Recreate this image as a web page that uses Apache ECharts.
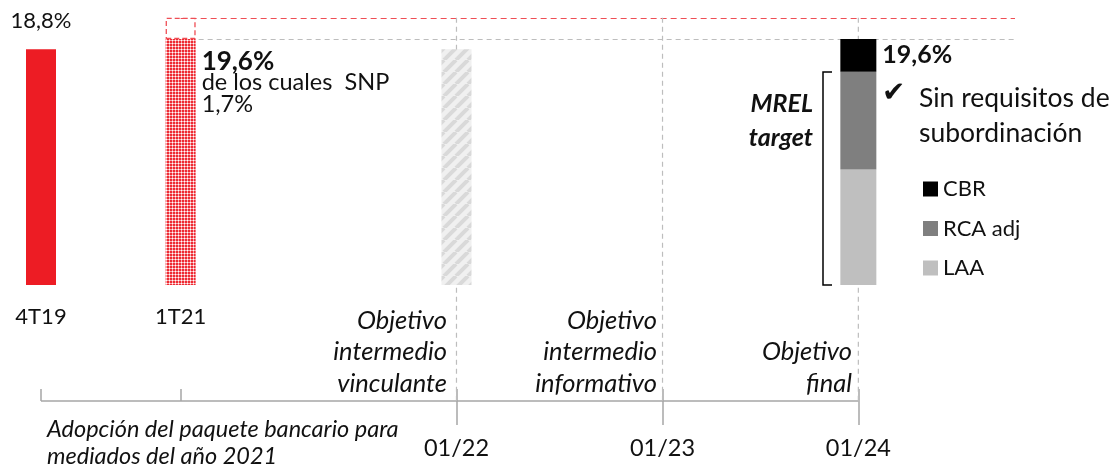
<!DOCTYPE html>
<html>
<head>
<meta charset="utf-8">
<script src="https://cdn.jsdelivr.net/npm/echarts@6/dist/echarts.min.js"></script>
<style>
  html, body { margin: 0; padding: 0; background: #fff; }
  #chart { width: 1118px; height: 464px; }
</style>
</head>
<body>
<div id="chart"></div>
<script>
// Milestones on the timeline and their horizontal slots
const milestones = ['4T19', '1T21', '01/22', '01/23', '01/24'];
const milestonePos = [0, 4.1, 12.2, 18.25, 24];

// Capital ratios (%)
const ratio4T19 = 18.8;
const ratio1T21 = 19.6;
const snp1T21 = 1.7;
const ratio0122 = 18.8;          // placeholder bar for the binding intermediate target
const componentNames = ['LAA', 'RCA adj', 'CBR'];
const components0124 = [9.2, 7.8, 2.6];
const legendOrder = ['CBR', 'RCA adj', 'LAA'];

// Texts of the target milestones
const targetNotes = [
  ['Objetivo', 'intermedio', 'vinculante'],
  ['Objetivo', 'intermedio', 'informativo'],
  ['Objetivo', 'final']
];
const adoptionNote = ['Adopción del paquete bancario para', 'mediados del año 2021'];

const FONT = 'Lato, "Liberation Sans", sans-serif';
const AXIS = '#a6a6a6';
const Y_FLOOR = -9.24, Y_TOP = 22, X_END = 28.6;

const pct = v => v.toFixed(1).replace('.', ',') + '%';
const nameAt = v => {
  let best = 0;
  milestonePos.forEach((p, i) => { if (Math.abs(p - v) < Math.abs(milestonePos[best] - v)) best = i; });
  return milestones[best];
};

// Fine red dot pattern
function redDots() {
  const c = document.createElement('canvas');
  c.width = 3; c.height = 3;
  const g = c.getContext('2d');
  g.fillStyle = '#ee2a32'; g.fillRect(0, 0, 3, 3);
  g.fillStyle = '#f8a6aa';
  g.fillRect(1, 0, 1, 1); g.fillRect(0, 1, 1, 1); g.fillRect(2, 1, 1, 1); g.fillRect(1, 2, 1, 1);
  g.fillStyle = '#ffffff'; g.fillRect(1, 1, 1, 1);
  return c;
}
// Light grey diagonal hatching
function greyStripes() {
  const s = 12;
  const c = document.createElement('canvas');
  c.width = s; c.height = s;
  const g = c.getContext('2d');
  g.fillStyle = '#f0f0f0'; g.fillRect(0, 0, s, s);
  g.strokeStyle = '#d9d9d9'; g.lineWidth = 4;
  for (const k of [-s, 0, s]) {
    g.beginPath(); g.moveTo(k, s); g.lineTo(k + s, 0); g.stroke();
  }
  return c;
}

const total1T21 = ratio1T21 + snp1T21;
const total0124 = components0124.reduce((a, b) => a + b, 0);
const p1T21 = milestonePos[1];
const targetPos = milestonePos.slice(2);

const dashGrey = { color: '#bdbdbd', width: 1.2, type: [5, 4] };
const dashRed = { color: '#ef4e55', width: 1.2, type: [6, 4] };

// Horizontal reference levels and the timeline itself
const guideLines = [
  [{ coord: [p1T21, total1T21], lineStyle: dashRed }, { coord: [X_END, total1T21] }],
  [{ coord: [p1T21, ratio1T21], lineStyle: dashGrey }, { coord: [X_END, ratio1T21] }],
  [{ coord: [milestonePos[0], Y_FLOOR], lineStyle: { color: AXIS, width: 1.5, type: 'solid' } },
   { coord: [milestonePos[4], Y_FLOOR] }]
];

const colors0124 = { 'LAA': '#bfbfbf', 'RCA adj': '#7f7f7f', 'CBR': '#000000' };

// Each item is [ratio, slot]; the ratio column comes first so stacks add up vertically
const barEncode = { x: 1, y: 0 };

// Dashed verticals marking each regulatory target date
const targetLines = targetPos.map(p => ({
  name: 'guide ' + nameAt(p), type: 'line', xAxisIndex: 1, z: 1, silent: true,
  encode: barEncode, symbol: 'none', animation: false,
  lineStyle: { color: '#bdbdbd', width: 1.2, type: [5, 4] },
  data: [[total1T21, p], [Y_FLOOR, p]]
}));

const series = [
  ...targetLines,
  {
    name: '4T19', type: 'bar', xAxisIndex: 0, barWidth: 30, barGap: '-100%', z: 3,
    encode: barEncode,
    data: [[ratio4T19, milestonePos[0]]],
    itemStyle: { color: '#ed1c24' },
    label: { show: true, position: 'top', distance: 17, formatter: p => pct(p.value[0]),
             fontSize: 22, fontFamily: FONT, color: '#111' },
    markLine: { silent: true, z: 1, symbol: ['none', 'none'], label: { show: false },
                animation: false, data: guideLines }
  },
  {
    name: '1T21', type: 'bar', xAxisIndex: 0, barWidth: 30, barGap: '-100%', stack: 'q1', z: 3,
    encode: barEncode,
    data: [[ratio1T21, p1T21]],
    itemStyle: { color: { image: redDots(), repeat: 'repeat' } },
    label: {
      show: true, position: [36, 11], align: 'left', verticalAlign: 'top',
      formatter: p => '{b|' + pct(p.value[0]) + '}\n{n|de los cuales  SNP}\n{n|' + pct(snp1T21) + '}',
      rich: {
        b: { fontSize: 26, fontWeight: 'bold', fontFamily: FONT, color: '#111', lineHeight: 22 },
        n: { fontSize: 23.5, fontFamily: FONT, color: '#111', lineHeight: 21.5 }
      }
    }
  },
  {
    name: 'SNP', type: 'bar', xAxisIndex: 0, barWidth: 30, barGap: '-100%', stack: 'q1', z: 3,
    encode: barEncode,
    data: [[snp1T21, p1T21]],
    itemStyle: { color: 'rgba(255,255,255,0)', borderColor: '#ef4e55', borderWidth: 1.3, borderType: [5, 3] }
  },
  {
    name: '01/22', type: 'bar', xAxisIndex: 0, barWidth: 30, barGap: '-100%', z: 3,
    encode: barEncode,
    data: [[ratio0122, milestonePos[2]]],
    itemStyle: { color: { image: greyStripes(), repeat: 'repeat' } }
  },
  ...componentNames.map((n, i) => ({
    name: n, type: 'bar', xAxisIndex: 1, barWidth: 36, stack: 'final', z: 3,
    encode: barEncode,
    data: [[components0124[i], milestonePos[4]]],
    itemStyle: { color: colors0124[n] },
    label: i === componentNames.length - 1 ? {
      show: true, position: [42, 3], align: 'left', verticalAlign: 'top',
      formatter: () => pct(total0124),
      fontSize: 25, fontWeight: 'bold', fontFamily: FONT, color: '#111'
    } : { show: false }
  }))
];

const txt = (x, y, lines, extra) => ({
  type: 'text', x, y, silent: true,
  style: Object.assign({ text: lines.join('\n'), fontFamily: FONT, fill: '#111',
                         verticalAlign: 'top' }, extra)
});

const noteStyle = { align: 'right', fontSize: 25.5, fontStyle: 'italic', lineHeight: 31.5 };

const graphic = [
  txt(447, 305, targetNotes[0], noteStyle),
  txt(657, 305, targetNotes[1], noteStyle),
  txt(852, 336.5, targetNotes[2], noteStyle),
  txt(47, 415.5, adoptionNote, { align: 'left', fontSize: 23.5, fontStyle: 'italic', lineHeight: 27 }),
  txt(813, 87, ['MREL', 'target'], { align: 'right', fontSize: 25, fontStyle: 'italic', fontWeight: 'bold', lineHeight: 34 }),
  txt(882, 94, ['\u2714'], { align: 'left', verticalAlign: 'middle', fontSize: 28, fontFamily: '"DejaVu Sans"' }),
  txt(919, 80.5, ['Sin requisitos de', 'subordinación'], { align: 'left', fontSize: 26.5, lineHeight: 35 }),
  { type: 'polyline', silent: true,
    shape: { points: [[832, 72], [823, 72], [823, 285], [832, 285]] },
    style: { stroke: '#000', lineWidth: 1.5, fill: null } }
];

const chart = echarts.init(document.getElementById('chart'), null, { renderer: 'canvas' });
chart.setOption({
  animation: false,
  backgroundColor: '#fff',
  textStyle: { fontFamily: FONT },
  grid: { left: 41, right: 103, top: 9, bottom: 63, containLabel: false, outerBoundsMode: 'none' },
  xAxis: [
    {
      type: 'value', position: 'bottom', min: 0, max: X_END,
      splitLine: { show: false }, axisLine: { show: false, onZero: false },
      axisTick: { show: true, inside: true, length: 12, customValues: milestonePos,
                  lineStyle: { color: AXIS, width: 1.5 } },
      axisLabel: { show: true, inside: true, margin: 84, verticalAlign: 'middle',
                   customValues: milestonePos.slice(0, 2), formatter: v => nameAt(v),
                   fontSize: 22, fontFamily: FONT, color: '#111' }
    },
    {
      type: 'value', position: 'bottom', min: 0, max: X_END,
      splitLine: { show: false }, axisLine: { show: false, onZero: false },
      axisTick: { show: true, inside: false, length: 24, customValues: targetPos,
                  lineStyle: { color: AXIS, width: 1.5 } },
      axisLabel: { show: true, margin: 35, customValues: targetPos, formatter: v => nameAt(v),
                   fontSize: 23.5, fontFamily: FONT, color: '#111' }
    }
  ],
  yAxis: { type: 'value', min: Y_FLOOR, max: Y_TOP, show: false },
  legend: {
    data: legendOrder, orient: 'vertical', left: 923, top: 178, padding: 0,
    itemWidth: 15, itemHeight: 15, itemGap: 17.5, icon: 'rect',
    selectedMode: false,
    textStyle: { fontSize: 22, fontFamily: FONT, color: '#111', lineHeight: 20 }
  },
  series,
  graphic
});
</script>
</body>
</html>
